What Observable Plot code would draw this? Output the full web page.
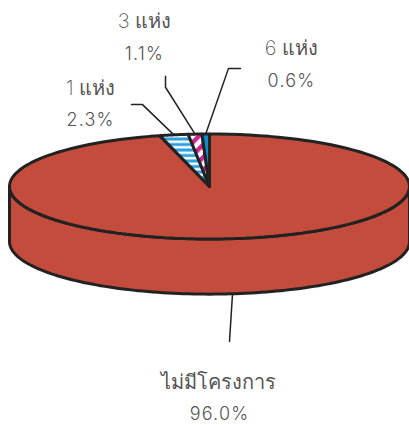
<!DOCTYPE html>
<html><head><meta charset="utf-8">
<script src="https://cdn.jsdelivr.net/npm/d3@7"></script>
<script src="https://cdn.jsdelivr.net/npm/@observablehq/plot@0.6"></script>
<style>html,body{margin:0;padding:0;background:#fff;overflow:hidden}svg{display:block}</style>
</head><body><div id="chart"></div>
<script>
// Data, counter-clockwise from the top of the pie
const categories = ["6 แห่ง", "3 แห่ง", "1 แห่ง", "ไม่มีโครงการ"];
const shares = [0.6, 1.1, 2.3, 96.0];
const shareLabels = ["0.6%", "1.1%", "2.3%", "96.0%"];
const fills = ["#0f8ecf", "url(#stripe-magenta)", "url(#stripe-blue)", "#c44c3d"];
// Label anchors and leader elbows, in pie units (rim radius = 1)
const catX = [0.41, -0.325, -0.595, 0.045];
const catY = [-2.63, -3.14, -1.87, 3.73];
const pctX = [0.41, -0.325, -0.595, 0.05];
const pctY = [-2.0, -2.52, -1.26, 4.34];
const leaderEnds = [[[0.095, -2.25], [0.155, -2.25]], [[-0.22, -1.89], [-0.22, -2.1]], [[-0.335, -1.56], [-0.39, -1.56]], [[0.10, 2.95]]];
const depth = 1.05;

const ink = "#222222", textColor = "#555555";
const font = "Inter, 'Noto Sans', sans-serif";
const TAU = Math.PI * 2;
const rim = a => ({x: -Math.sin(a), y: -Math.cos(a)});
const arc = (a0, a1) => d3.range(0, 121).map(i => rim(a0 + (a1 - a0) * i / 120));

let cum = 0;
const slices = shares.map((s, i) => {
  const a0 = cum / 100 * TAU; cum += s;
  const a1 = cum / 100 * TAU;
  return {i, a0, a1, mid: (a0 + a1) / 2, pts: [{x: 0, y: 0}, ...arc(a0, a1), {x: 0, y: 0}]};
});
// visible wall: lower half of the rim, extruded
const lower = d3.range(0, 121).map(i => rim(Math.PI / 2 + Math.PI * i / 120));
const wall = [...lower, ...lower.slice().reverse().map(p => ({x: p.x, y: p.y + depth}))];
wall.push(wall[0]);

const leaders = slices.map(s => {
  const start = s.i === 3 ? {x: 0.115, y: 1 + depth} : rim(s.mid);
  return [start, ...leaderEnds[s.i].map(([x, y]) => ({x, y}))];
});

const marks = [
  Plot.line(wall, {x: "x", y: "y", fill: fills[3], stroke: ink, strokeWidth: 3, strokeLinejoin: "round"}),
  ...slices.slice().reverse().map(s =>
    Plot.line(s.pts, {x: "x", y: "y", fill: fills[s.i], stroke: ink, strokeWidth: 3, strokeLinejoin: "miter"})),
  ...leaders.map(l => Plot.line(l, {x: "x", y: "y", stroke: ink, strokeWidth: 1.5})),
  Plot.text(categories, {x: (d, i) => catX[i], y: (d, i) => catY[i], text: d => d, fontSize: 20, fill: textColor, fontFamily: font, fontWeight: 200}),
  Plot.text(shareLabels, {x: (d, i) => pctX[i], y: (d, i) => pctY[i], text: d => d, fontSize: 18, fill: textColor, fontFamily: font, fontWeight: 300, className: "pct"})
];

const svg = Plot.plot({
  width: 409, height: 425, margin: 0,
  x: {domain: [-1, 1], range: [9, 409], axis: null},
  y: {domain: [-1, 1], range: [133.5, 238.5], axis: null},
  style: {background: "#fff"},
  marks
});
d3.select(svg).selectAll(".pct").style("letter-spacing", "1.2px");
const defs = d3.select(svg).insert("defs", ":first-child");
const p1 = defs.append("pattern").attr("id", "stripe-blue").attr("patternUnits", "userSpaceOnUse").attr("width", 6).attr("height", 5.5);
p1.append("rect").attr("width", 6).attr("height", 5.5).attr("fill", "#2aa0dc");
p1.append("rect").attr("y", 2.5).attr("width", 6).attr("height", 2.5).attr("fill", "#ffffff");
const p2 = defs.append("pattern").attr("id", "stripe-magenta").attr("patternUnits", "userSpaceOnUse").attr("width", 9).attr("height", 9).attr("patternTransform", "rotate(-45)");
p2.append("rect").attr("width", 9).attr("height", 9).attr("fill", "#ffffff");
p2.append("rect").attr("width", 9).attr("height", 4.5).attr("fill", "#c9248f");
document.getElementById("chart").append(svg);
</script></body></html>
